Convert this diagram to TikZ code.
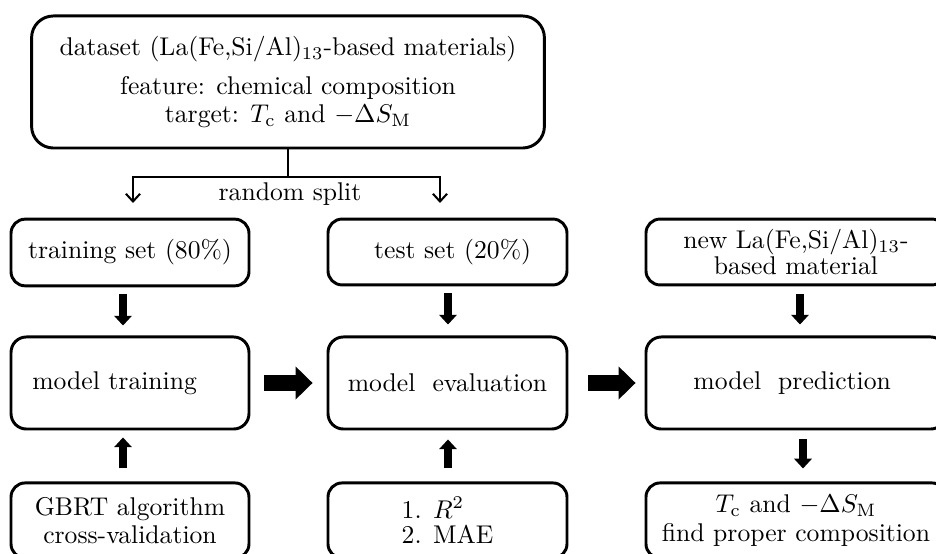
\documentclass[tikz,border=0pt]{standalone}
\usepackage{fontspec}
\usetikzlibrary{arrows.meta,calc}
\begin{document}
\begin{tikzpicture}[x=0.39pt,y=-0.39pt,
  box/.style={draw, line width=1.15pt, rounded corners=5.5pt, inner sep=0pt},
  midbox/.style={box, rounded corners=6pt, minimum height=35.9pt},
  fatv/.style={line width=3.4pt, -{Triangle[width=7pt,length=3.8pt,line width=0pt]}},
  fath/.style={line width=6.6pt, -{Triangle[width=12.9pt,length=6.6pt,line width=0pt]}},
  thin/.style={line width=0.8pt},
  split/.style={thin, {Straight Barb[length=3pt,width=5.5pt]}-{Straight Barb[length=3pt,width=5.5pt]}}]
\useasboundingbox (0,0) rectangle (936,554);
\clip (0,0) rectangle (936,554);
% top box
\node[box, rounded corners=8.5pt, minimum width=200pt, minimum height=51.5pt, align=center] (top) at (288,82)
  {dataset (La(Fe,Si/Al)$_{13}$-based materials)\\[3pt]
   feature: chemical composition\\[-1pt]
   target: $T_{\mathrm{c}}$ and $-\Delta S_{\mathrm{M}}$};
% row 2
\node[box, minimum width=92.8pt, minimum height=26pt] (train) at (130,252.5) {training set (80\%)};
\node[box, minimum width=93.2pt, minimum height=25.7pt] (test) at (447.5,252) {\hspace*{4pt}test set (20\%)};
\node[box, minimum width=117pt, minimum height=25.7pt, align=center] (new) at (796,252)
  {new La(Fe,Si/Al)$_{13}$-\\[-2pt]based material};
% row 3
\node[midbox, minimum width=92.8pt] (mtrain) at (130,383) {model training\hspace*{12pt}};
\node[midbox, minimum width=93.2pt] (meval) at (447.5,383) {model\ \ evaluation};
\node[midbox, minimum width=117pt] (mpred) at (796,383) {model\ \ prediction\hspace*{3pt}};
% row 4
\node[box, minimum width=92.8pt, minimum height=29.3pt, align=center] (gbrt) at (130,520.5)
  {GBRT algorithm\\[-1pt]cross-validation};
\node[box, minimum width=93.2pt, minimum height=29.3pt, align=left] (metric) at (447.5,520.5)
  {1. $R^2$\\[-2pt]2. MAE};
\node[box, minimum width=117pt, minimum height=29.3pt, align=center] (res) at (796,520.5)
  {$T_{\mathrm{c}}$ and $-\Delta S_{\mathrm{M}}$\\[-1pt]find proper composition};
% split connector
\coordinate (br) at (288,177);
\coordinate (tl) at (133,203);
\coordinate (tr) at (440,203);
\draw[thin] (top.south) -- (br);
\draw[split] (tl) -- (tl |- br) -- (tr |- br) -- (tr);
\node (rs) at (290,194) {random split};
% vertical fat arrows
\draw[fatv] ($(train.south)+(-7,7)$) -- ($(mtrain.north)+(-7,-10)$);
\draw[fatv] ($(test.south)+(0.5,7)$) -- ($(meval.north)+(0.5,-11)$);
\draw[fatv] ($(new.south)+(4,8)$) -- ($(mpred.north)+(4,-11)$);
\draw[fatv] ($(mpred.south)+(7,9)$) -- ($(res.north)+(7,-13)$);
\draw[fatv] ($(gbrt.north)+(-7,-13)$) -- ($(mtrain.south)+(-7,7)$);
\draw[fatv] ($(metric.north)+(0.5,-13)$) -- ($(meval.south)+(0.5,9)$);
% horizontal fat arrows
\draw[fath] ($(mtrain.east)+(14,0)$) -- ($(meval.west)+(-14,0)$);
\draw[fath] ($(meval.east)+(20,0)$) -- ($(mpred.west)+(-9,0)$);
\end{tikzpicture}
\end{document}
